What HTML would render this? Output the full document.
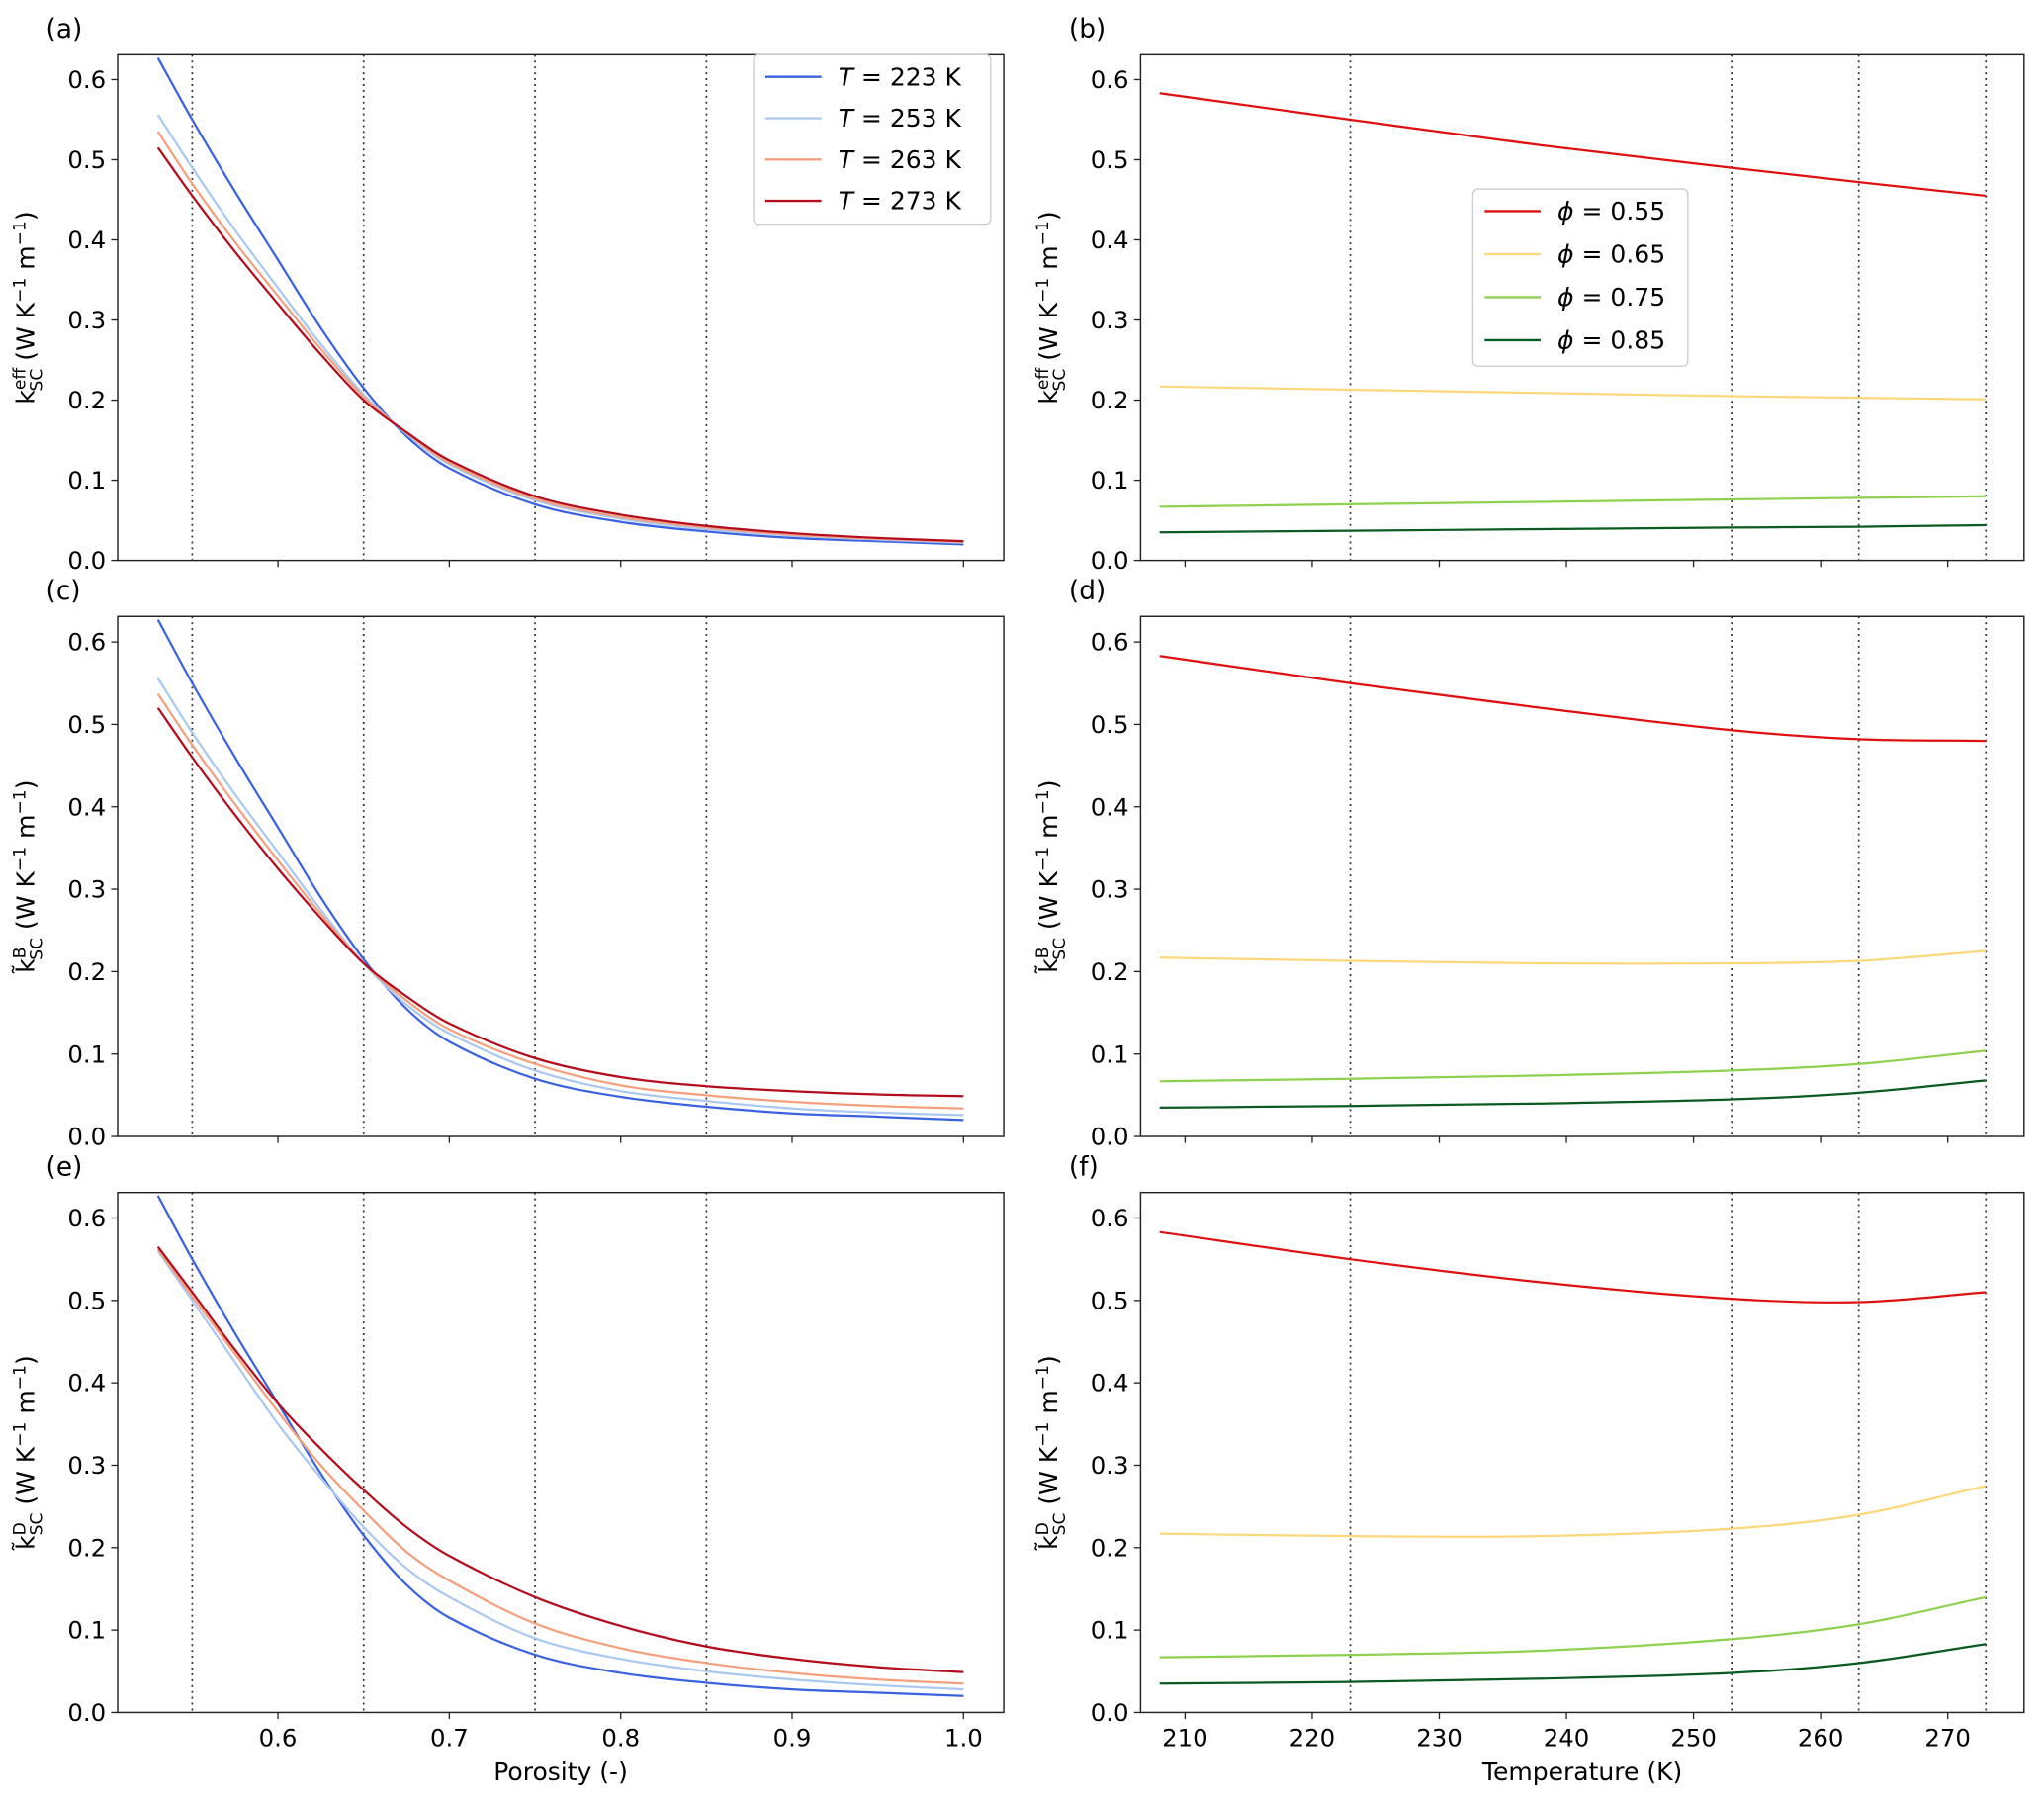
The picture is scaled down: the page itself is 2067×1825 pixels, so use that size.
<!DOCTYPE html>
<html><head><meta charset="utf-8"><style>
html,body{margin:0;padding:0;background:#fff;}
svg{display:block;font-family:"DejaVu Sans","Liberation Sans",sans-serif;}
</style></head><body>
<svg id="fig" width="2067" height="1825" viewBox="0 0 1568 1385" xmlns="http://www.w3.org/2000/svg"></svg>
<script>
const poro = [0.53,0.55,0.575,0.6,0.625,0.65,0.675,0.7,0.75,0.8,0.85,0.9,0.95,1.0];
const tempSeriesNames = ["T223","T253","T263","T273"];
const tempLabels = ["223","253","263","273"];
const a223 = [0.627,0.55,0.46,0.375,0.29,0.215,0.155,0.115,0.07,0.048,0.036,0.028,0.024,0.020];
const a253 = [0.556,0.49,0.412,0.34,0.27,0.207,0.158,0.12,0.075,0.052,0.039,0.031,0.026,0.022];
const a263 = [0.535,0.47,0.397,0.33,0.264,0.204,0.159,0.122,0.077,0.054,0.041,0.032,0.027,0.023];
const a273 = [0.515,0.455,0.385,0.32,0.257,0.2,0.16,0.125,0.08,0.057,0.043,0.034,0.028,0.024];
const c223 = [0.627,0.55,0.46,0.375,0.29,0.215,0.155,0.115,0.07,0.048,0.036,0.028,0.024,0.020];
const c253 = [0.556,0.49,0.415,0.345,0.275,0.21,0.16,0.125,0.08,0.055,0.043,0.034,0.029,0.026];
const c263 = [0.537,0.475,0.403,0.335,0.27,0.21,0.165,0.13,0.088,0.062,0.05,0.042,0.037,0.034];
const c273 = [0.52,0.46,0.39,0.325,0.265,0.21,0.17,0.137,0.095,0.072,0.061,0.055,0.051,0.049];
const e223 = [0.627,0.55,0.46,0.375,0.29,0.215,0.155,0.115,0.07,0.048,0.036,0.028,0.024,0.020];
const e253 = [0.56,0.5,0.425,0.35,0.285,0.225,0.175,0.14,0.09,0.065,0.05,0.04,0.033,0.028];
const e263 = [0.562,0.505,0.435,0.365,0.3,0.245,0.195,0.16,0.108,0.078,0.06,0.048,0.04,0.035];
const e273 = [0.565,0.51,0.44,0.375,0.32,0.27,0.225,0.19,0.14,0.105,0.08,0.065,0.055,0.049];
const temps = [208,223,238,253,263,273];
const phiLabels = ["0.55","0.65","0.75","0.85"];
const b55 = [0.583,0.55,0.518,0.49,0.472,0.455];
const b65 = [0.217,0.213,0.209,0.205,0.203,0.201];
const b75 = [0.067,0.07,0.073,0.076,0.078,0.08];
const b85 = [0.035,0.037,0.039,0.041,0.042,0.044];
const d55 = [0.583,0.55,0.52,0.493,0.482,0.48];
const d65 = [0.217,0.213,0.21,0.21,0.213,0.225];
const d75 = [0.067,0.07,0.074,0.08,0.088,0.104];
const d85 = [0.035,0.037,0.04,0.045,0.053,0.068];
const f55 = [0.583,0.55,0.522,0.502,0.498,0.51];
const f65 = [0.217,0.214,0.214,0.223,0.24,0.275];
const f75 = [0.067,0.07,0.075,0.089,0.107,0.14];
const f85 = [0.035,0.037,0.041,0.048,0.06,0.083];
const yTicks = [0,0.1,0.2,0.3,0.4,0.5,0.6];
const xTicksL = [0.6,0.7,0.8,0.9,1.0];
const xTicksR = [210,220,230,240,250,260,270];
const vlinesL = [0.55,0.65,0.75,0.85];
const vlinesR = [223,253,263,273];

const NS="http://www.w3.org/2000/svg";
const svg=document.getElementById('fig');
function mk(tag,attrs,parent){const e=document.createElementNS(NS,tag);for(const k in attrs)e.setAttribute(k,attrs[k]);(parent||svg).appendChild(e);return e;}
const tColors=["#3a62e0","#aac8f0","#f4a07e","#b40d1e"];
const pColors=["#e01010","#fdd87a","#8fd14f","#0b5a22"];
const rows=[{top:42,bot:430},{top:473,bot:872},{top:915,bot:1314}];
const L={l:90,r:770,xmin:0.5065,xmax:1.0235};
const R={l:875,r:1553,xmin:206.5,xmax:276.0};
const YMAX=0.631;

function smoothPath(pts){
  const n=pts.length;
  const m=pts.map((p,i)=>{
    const a=pts[Math.max(0,i-1)],b=pts[Math.min(n-1,i+1)];
    return (b[1]-a[1])/(b[0]-a[0]);
  });
  let d="M"+pts[0][0]+","+pts[0][1];
  for(let i=0;i<n-1;i++){
    const p1=pts[i],p2=pts[i+1],dx=(p2[0]-p1[0])/3;
    d+=" C"+(p1[0]+dx)+","+(p1[1]+m[i]*dx)+" "+(p2[0]-dx)+","+(p2[1]-m[i+1]*dx)+" "+p2[0]+","+p2[1];
  }
  return d;
}

function panel(P,row,xs,series,colors,names,xt,vl,label,sym,showX,xtitle,legend){
  const g=mk('g',{});
  
  
  const X=v=>P.l+(v-P.xmin)/(P.xmax-P.xmin)*(P.r-P.l);
  const Y=v=>row.bot-v/YMAX*(row.bot-row.top);
  vl.forEach(v=>{const ln=mk('line',{x1:X(v),x2:X(v),y1:row.top,y2:row.bot,stroke:"#333","stroke-width":1.3,"stroke-dasharray":"1.5,3"},g);
    });
  series.forEach((s,i)=>{
    const p=mk('path',{d:smoothPath(xs.map((x,j)=>[X(x),Y(s[j])])),fill:"none",stroke:colors[i],"stroke-width":1.7},g);
    
  });
  const fr=mk('rect',{x:P.l,y:row.top,width:P.r-P.l,height:row.bot-row.top,fill:"none",stroke:"#222","stroke-width":1.1},g);
  
  yTicks.forEach(v=>{mk('line',{x1:P.l-5,x2:P.l,y1:Y(v),y2:Y(v),stroke:"#222","stroke-width":1},g);
    const t=mk('text',{x:P.l-9,y:Y(v)+6.5,"text-anchor":"end","font-size":18.5},g);t.textContent=v.toFixed(1);
    });
  xt.forEach(v=>{mk('line',{x1:X(v),x2:X(v),y1:row.bot,y2:row.bot+5,stroke:"#222","stroke-width":1},g);
    if(showX){const t=mk('text',{x:X(v),y:row.bot+26,"text-anchor":"middle","font-size":18.5},g);t.textContent=(P===L?v.toFixed(1):v);
      }});
  const pl=mk('text',{x:P.l-55,y:row.top-13,"font-size":20},g);pl.textContent="("+label+")";
  
  const cy=(row.top+row.bot)/2, cx=P.l-64;
  const yl=mk('text',{x:cx,y:cy,"text-anchor":"middle","font-size":19,transform:`rotate(-90 ${cx} ${cy})`},g);
  
  yl.innerHTML=(sym==="eff"?"k":"k̃")+`<tspan font-size="13" dy="-7">${sym}</tspan><tspan font-size="13" dx="-${sym==="eff"?18:10}" dy="13">SC</tspan><tspan dy="-6"> (W K</tspan><tspan font-size="13" dy="-7">−1</tspan><tspan dy="7"> m</tspan><tspan font-size="13" dy="-7">−1</tspan><tspan dy="7">)</tspan>`;
  if(showX){const xl=mk('text',{x:(P.l+P.r)/2,y:row.bot+52,"text-anchor":"middle","font-size":19},g);xl.textContent=xtitle;
    }
  if(legend){
    const lg=mk('g',{},g);
    mk('rect',{x:legend.x,y:legend.y,width:legend.w,height:legend.h,rx:4,fill:"#fff",stroke:"#ccc","stroke-width":1},lg);
    legend.items.forEach((it,i)=>{const yy=legend.y+17+i*legend.dy;
      const e=mk('g',{},lg);
      mk('line',{x1:legend.x+9,x2:legend.x+52,y1:yy,y2:yy,stroke:colors[i],"stroke-width":1.8},e);
      const t=mk('text',{x:legend.x+65,y:yy+6.5,"font-size":19},e);t.innerHTML=it;});
  }
}
panel(L,rows[0],poro,[a223,a253,a263,a273],tColors,tempSeriesNames,xTicksL,vlinesL,"a","eff",false,"",
 {x:578,y:42,w:182,h:130,dy:31.7,items:tempLabels.map(t=>`<tspan font-style="italic">T</tspan> = ${t} K`)});
panel(L,rows[1],poro,[c223,c253,c263,c273],tColors,tempSeriesNames,xTicksL,vlinesL,"c","B",false,"");
panel(L,rows[2],poro,[e223,e253,e263,e273],tColors,tempSeriesNames,xTicksL,vlinesL,"e","D",true,"Porosity (-)");
const pn=phiLabels.map(p=>"phi-"+p);
panel(R,rows[0],temps,[b55,b65,b75,b85],pColors,pn,xTicksR,vlinesR,"b","eff",false,"",
 {x:1130,y:145,w:165,h:136,dy:33,items:phiLabels.map(p=>`<tspan font-style="italic">ϕ</tspan> = ${p}`)});
panel(R,rows[1],temps,[d55,d65,d75,d85],pColors,pn,xTicksR,vlinesR,"d","B",false,"");
panel(R,rows[2],temps,[f55,f65,f75,f85],pColors,pn,xTicksR,vlinesR,"f","D",true,"Temperature (K)");
</script>
</body></html>
